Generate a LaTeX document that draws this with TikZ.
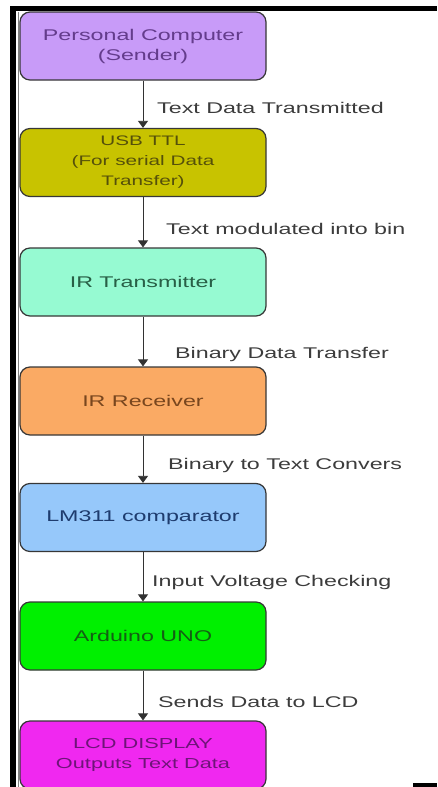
\documentclass[tikz,border=0pt]{standalone}
\usepackage{fontspec}
\setmainfont{Liberation Sans}[FakeStretch=1.5]
\usetikzlibrary{arrows.meta}
\definecolor{boxline}{RGB}{55,55,55}
\definecolor{lblgray}{RGB}{60,60,60}
\definecolor{arrgray}{RGB}{50,50,50}
\definecolor{pcfill}{RGB}{200,155,248}
\definecolor{pctext}{RGB}{100,60,140}
\definecolor{usbfill}{RGB}{200,195,0}
\definecolor{usbtext}{RGB}{85,80,10}
\definecolor{irtxfill}{RGB}{150,250,210}
\definecolor{irtxtext}{RGB}{40,95,70}
\definecolor{irrxfill}{RGB}{250,170,100}
\definecolor{irrxtext}{RGB}{120,70,30}
\definecolor{lmfill}{RGB}{150,200,250}
\definecolor{lmtext}{RGB}{30,60,110}
\definecolor{unofill}{RGB}{0,240,0}
\definecolor{unotext}{RGB}{20,95,20}
\definecolor{lcdfill}{RGB}{240,40,240}
\definecolor{lcdtext}{RGB}{110,20,120}
\begin{document}
\begin{tikzpicture}[x=1pt, y=-1pt,
  box/.style={draw=boxline, line width=1.2pt, rounded corners=10pt, minimum width=246pt, minimum height=68pt, inner sep=0pt, align=center, font=\fontsize{15.5}{20}\selectfont},
  lbl/.style={anchor=west, inner sep=0pt, text=lblgray, font=\fontsize{15.5}{20}\selectfont},
  arr/.style={-{Triangle[width=10pt,length=7pt]}, draw=arrgray, line width=0.8pt}]
\useasboundingbox (0,0) rectangle (437,787);
% frame
\fill[black] (10,6) rectangle (437,11);
\fill[black] (10,6) rectangle (16,787);
\draw[gray, line width=1pt] (18.5,12) -- (18.5,787);
\fill[black] (413,783) rectangle (437,787);
% blocks
\node[box, fill=pcfill, text=pctext] (pc) at (143,46) {Personal Computer\\(Sender)};
\node[box, fill=usbfill, text=usbtext, font=\fontsize{13.8}{20}\selectfont] (usb) at (143,162.5) {USB TTL\\(For serial Data\\Transfer)};
\node[box, fill=irtxfill, text=irtxtext] (irtx) at (143,282) {IR Transmitter};
\node[box, fill=irrxfill, text=irrxtext] (irrx) at (143,401) {IR Receiver};
\node[box, fill=lmfill, text=lmtext] (lm) at (143,517.5) {LM311 comparator};
\node[box, fill=unofill, text=unotext] (uno) at (143,636) {Arduino UNO};
\node[box, fill=lcdfill, text=lcdtext, font=\fontsize{14.5}{20}\selectfont] (lcd) at (143,755) {LCD DISPLAY\\Outputs Text Data};
% connectors
\draw[arr] (pc) -- (usb);
\draw[arr] (usb) -- (irtx);
\draw[arr] (irtx) -- (irrx);
\draw[arr] (irrx) -- (lm);
\draw[arr] (lm) -- (uno);
\draw[arr] (uno) -- (lcd);
% labels
\node[lbl] (l1) at (157,108) {Text Data Transmitted};
\node[lbl] (l2) at (166,229) {Text modulated into bin};
\node[lbl] (l3) at (175,354) {Binary Data Transfer};
\node[lbl] (l4) at (168,465) {Binary to Text Convers};
\node[lbl] (l5) at (152,582) {Input Voltage Checking};
\node[lbl] (l6) at (158,702) {Sends Data to LCD};
\end{tikzpicture}
\end{document}
